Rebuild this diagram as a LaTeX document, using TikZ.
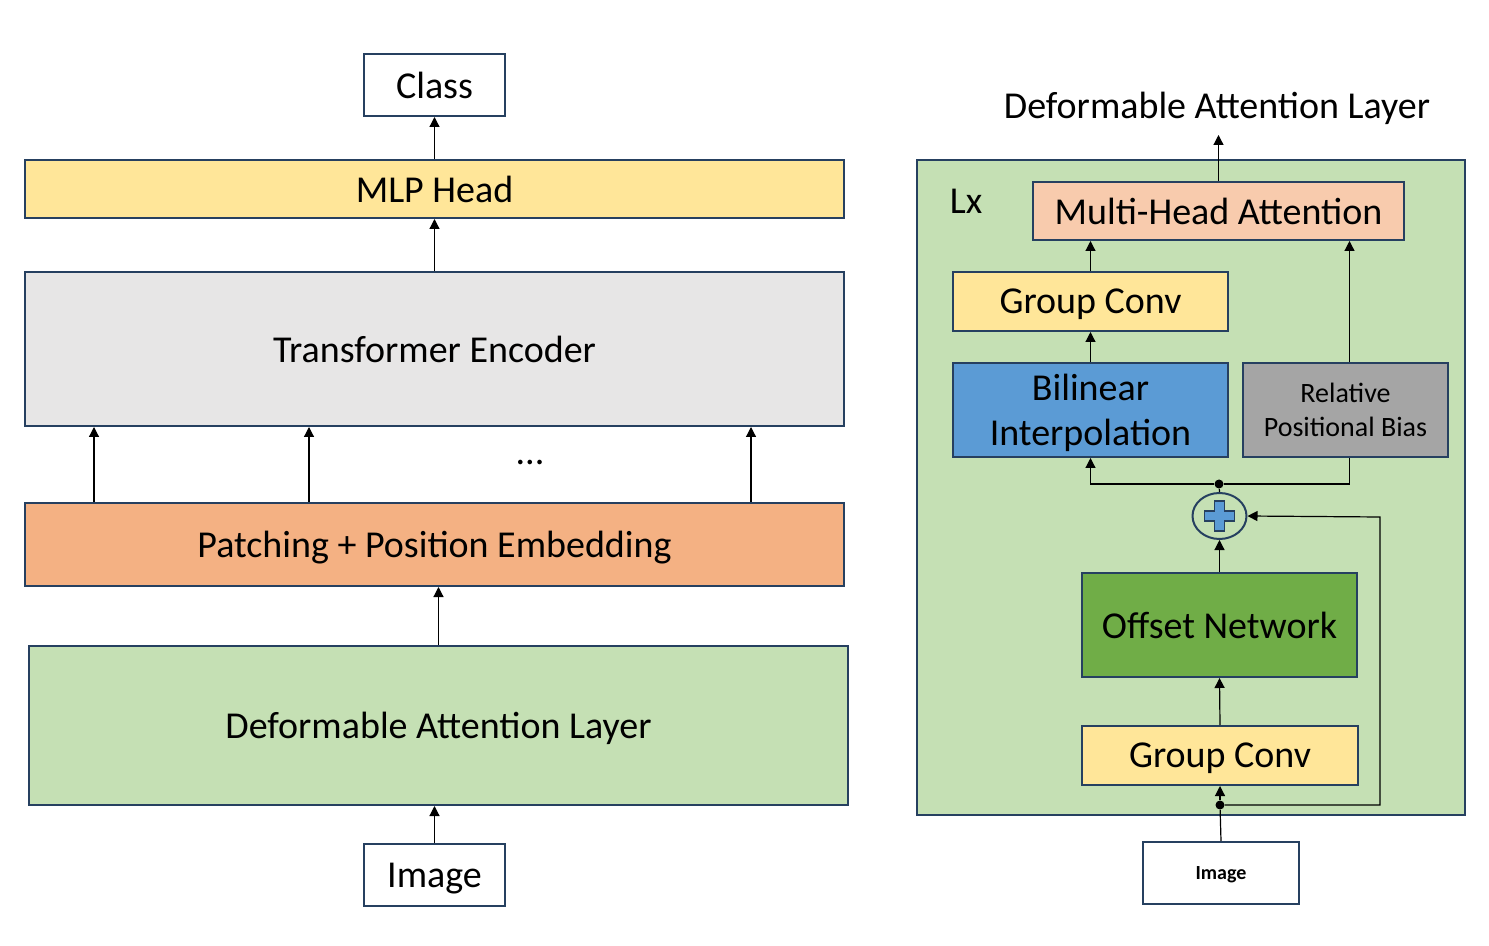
\documentclass[tikz,border=0pt]{standalone}
\usepackage{fontspec}
\setmainfont{Carlito}
\usetikzlibrary{arrows.meta,shapes.geometric}

\definecolor{edge}{RGB}{38,64,96}
\definecolor{lgreen}{HTML}{C5E0B4}
\definecolor{lyellow}{HTML}{FFE699}
\definecolor{lgrey}{HTML}{E7E6E6}
\definecolor{lorange}{HTML}{F4B183}
\definecolor{lpeach}{HTML}{F8CBAD}
\definecolor{mblue}{HTML}{5B9BD5}
\definecolor{mgrey}{HTML}{A5A5A5}
\definecolor{dgreen}{HTML}{70AD47}

\begin{document}
\begin{tikzpicture}[x=0.5pt,y=-0.5pt,
    box/.style={draw=edge,line width=1pt,inner sep=0pt,align=center,text depth=0pt,
      font=\fontsize{19}{23}\selectfont},
    arr/.style={-{Triangle[length=5pt,width=5pt]},line width=0.6pt},
    dot/.style={circle,fill=black,inner sep=0pt,minimum size=4.5pt}]
  \useasboundingbox (0,0) rectangle (1489,946);

  % left: whole model
  \node[box,minimum width=70.5pt,minimum height=31pt] (cls) at (434.5,85) {Class};
  \node[box,fill=lyellow,minimum width=409.5pt,minimum height=29pt] (mlp) at (434.5,189) {MLP Head};
  \node[box,fill=lgrey,minimum width=409.5pt,minimum height=77pt] (te) at (434.5,349) {Transformer Encoder};
  \node[box,fill=lorange,minimum width=409.5pt,minimum height=41.5pt] (patch) at (434.5,544.5) {Patching + Position Embedding};
  \node[box,fill=lgreen,minimum width=409.5pt,minimum height=79.5pt] (dal) at (438.5,725.5) {Deformable Attention Layer};
  \node[box,minimum width=70.5pt,minimum height=31pt] (img) at (434.5,875) {Image};
  \node[font=\fontsize{19}{23}\selectfont] (dots) at (530,462) {...};

  \draw[arr] (img.north) -- (img.north |- dal.south);
  \draw[arr] (dal.north) -- (dal.north |- patch.south);
  \draw[arr] ([xshift=35pt]patch.north west) -- ([xshift=35pt]te.south west);
  \draw[arr] ([xshift=142.5pt]patch.north west) -- ([xshift=142.5pt]te.south west);
  \draw[arr] ([xshift=363.5pt]patch.north west) -- ([xshift=363.5pt]te.south west);
  \draw[arr] (te.north) -- (mlp.south);
  \draw[arr] (mlp.north) -- (cls.south);

  % right: one deformable attention layer
  \node[box,fill=lgreen,minimum width=274pt,minimum height=327.5pt] (layer) at (1191,487.5) {};
  \node[font=\fontsize{19}{23}\selectfont,text depth=0pt] (title) at (1217,105) {Deformable Attention Layer};
  \node[font=\fontsize{19}{23}\selectfont,text depth=0pt] (lx) at (966,201) {Lx};
  \coordinate (titlein) at (1218.5,135);

  \node[box,fill=lpeach,minimum width=185.5pt,minimum height=29pt] (mha) at (1218.5,211) {Multi-Head Attention};
  \node[box,fill=lyellow,minimum width=137.5pt,minimum height=29.5pt] (gca) at (1090.5,301.5) {Group Conv};
  \node[box,fill=mblue,minimum width=137.5pt,minimum height=47pt,
    font=\fontsize{19}{22.5}\selectfont] (bil) at (1090.5,410) {Bilinear\\Interpolation};
  \node[box,fill=mgrey,minimum width=102.5pt,minimum height=47pt,
    font=\fontsize{14}{17}\selectfont] (rpb) at (1345.5,410) {Relative\\Positional Bias};
  \node[dot] (split) at (1219,484) {};
  \node[draw=edge,line width=1pt,ellipse,minimum width=27pt,minimum height=23pt,inner sep=0pt] (plus) at (1219.5,516) {};
  \node[box,fill=dgreen,minimum width=137.5pt,minimum height=52pt] (off) at (1219.5,625) {Offset Network};
  \node[box,fill=lyellow,minimum width=138pt,minimum height=29.5pt] (gcb) at (1220,755.5) {Group Conv};
  \node[dot] (join) at (1220,805) {};
  \node[box,minimum width=78pt,minimum height=31pt,
    font=\fontsize{10}{12}\selectfont\bfseries] (imgb) at (1221,873) {Image};
  \coordinate (loop) at (1380,517);

  % the plus sign
  \draw[draw=edge,fill=mblue,line width=0.8pt] (plus.center) ++(-5,-15) -- ++(10,0) -- ++(0,10)
    -- ++(10,0) -- ++(0,10) -- ++(-10,0) -- ++(0,10) -- ++(-10,0) -- ++(0,-10)
    -- ++(-10,0) -- ++(0,-10) -- ++(10,0) -- cycle;

  \draw[arr] (mha.north) -- (titlein);
  \draw[arr] (gca.north) -- (gca.north |- mha.south);
  \draw[arr] (bil.north) -- (gca.south);
  \draw[arr] ([xshift=2pt]rpb.north) -- ([xshift=2pt]rpb.north |- mha.south);
  \draw[line width=0.6pt] (plus.north) -- (split);
  \draw[arr] (split) -| (bil.south);
  \draw[line width=0.6pt] (split) -| ([xshift=2pt]rpb.south);
  \draw[arr] (off.north) -- (plus.south);
  \draw[arr] (gcb.north) -- (off.south);
  \draw[line width=0.6pt] (imgb.north) -- (join);
  \draw[arr] (join) -- (gcb.south);
  \draw[arr] (join) -| (loop) -- (plus.east);
\end{tikzpicture}
\end{document}
